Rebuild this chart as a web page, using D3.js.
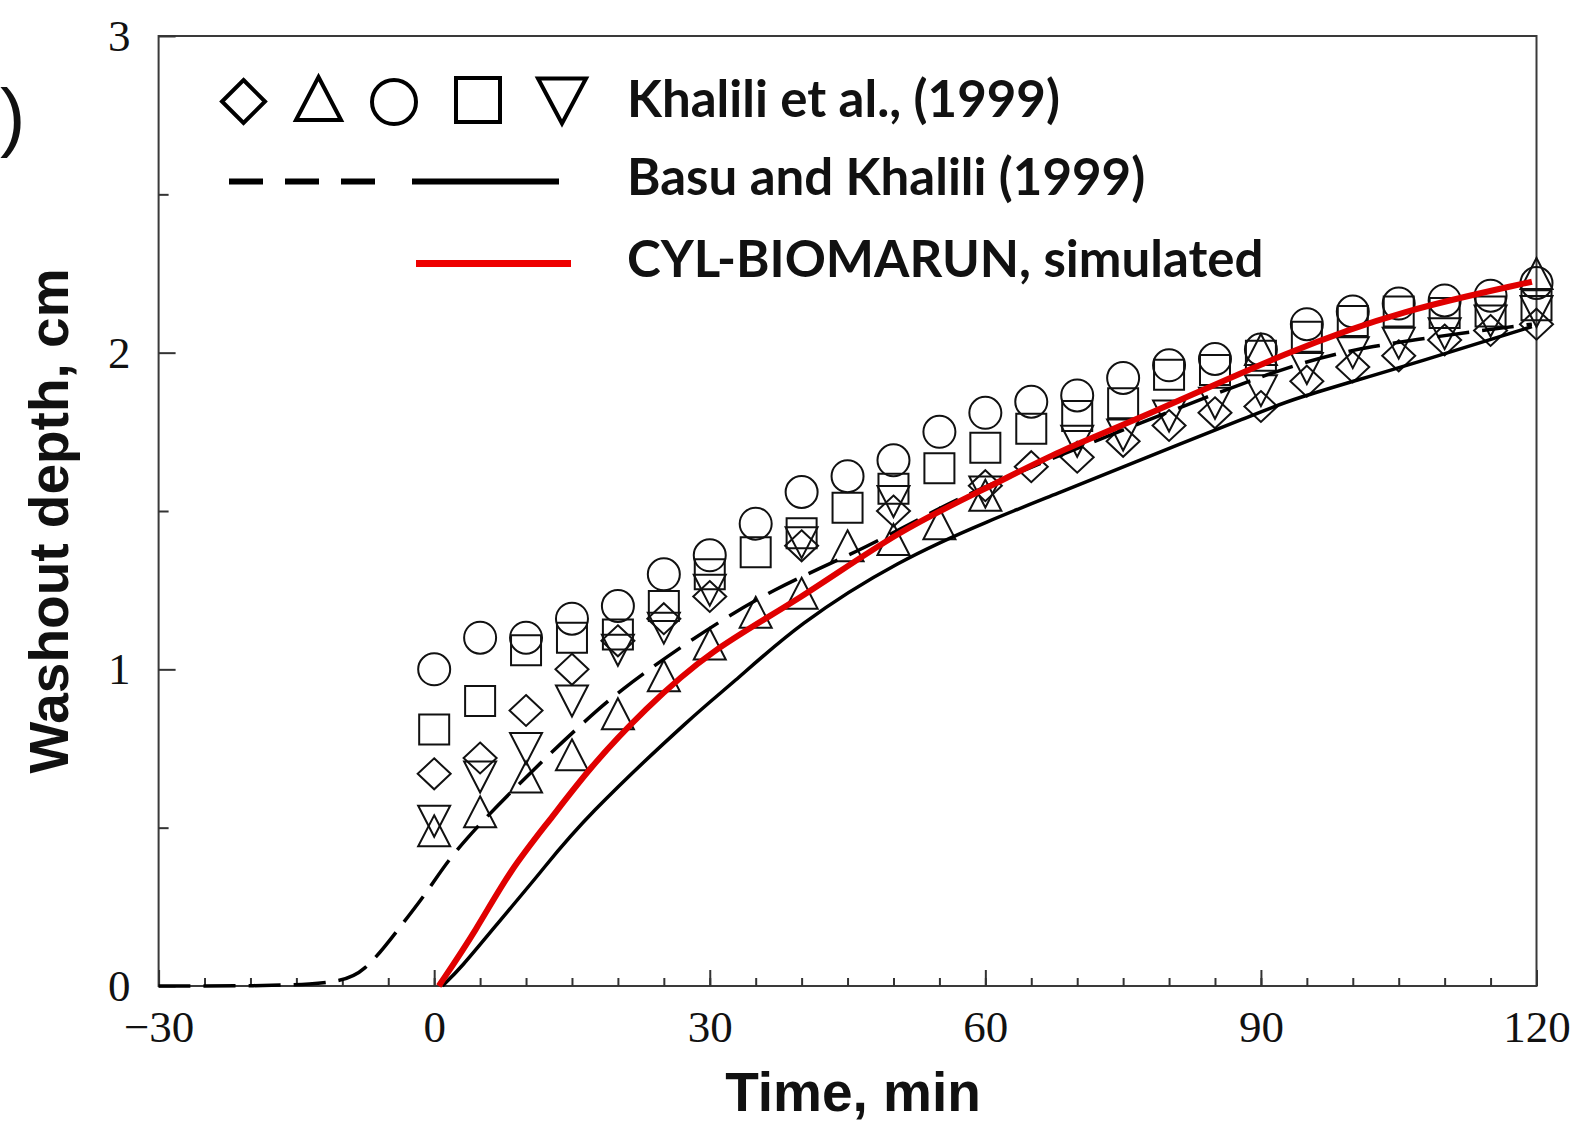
<!DOCTYPE html>
<html>
<head>
<meta charset="utf-8">
<script src="https://cdn.jsdelivr.net/npm/d3@7/dist/d3.min.js"></script>
<style>
  body { margin: 0; background: #fff; }
  svg { display: block; }
</style>
</head>
<body>
<script>
// washout depth vs time -- Khalili et al. data, Basu & Khalili model, CYL-BIOMARUN

var width = 1584,
	height = 1125;

// experimental points, every 5 min (null = hidden under other marks)
var times = [0, 5, 10, 15, 20, 25, 30, 35, 40, 45, 50, 55, 60, 65, 70, 75, 80, 85, 90, 95, 100, 105, 110, 115, 120];
var diamondVals = [0.67, 0.72, 0.87, 1.00, 1.09, 1.16, 1.23, null, 1.39, null, 1.50, null, 1.58, 1.64, 1.67, 1.72, 1.77, 1.81, 1.83, 1.91, 1.955, 1.99, 2.04, 2.07, 2.09];
var triangleVals = [0.49, 0.55, 0.66, 0.73, 0.86, 0.98, 1.08, 1.18, 1.24, 1.39, 1.41, 1.46, 1.55, null, null, null, null, null, 2.01, null, null, null, null, null, 2.25];
var circleVals = [1.00, 1.10, 1.10, 1.16, 1.20, 1.30, 1.36, 1.46, 1.56, 1.61, 1.66, 1.75, 1.81, 1.845, 1.865, 1.92, 1.96, 1.98, 2.01, 2.09, 2.13, 2.155, 2.165, 2.18, 2.22];
var squareVals = [0.81, 0.90, 1.06, 1.10, 1.11, 1.20, 1.30, 1.37, 1.43, 1.51, 1.57, 1.635, 1.70, 1.76, 1.80, 1.84, 1.93, 1.945, 1.99, 2.05, 2.10, 2.13, 2.125, 2.13, 2.15];
var downTriVals = [0.52, 0.66, 0.75, 0.90, 1.06, 1.13, 1.25, null, 1.40, null, 1.53, null, 1.56, null, 1.72, 1.74, 1.80, 1.84, 1.88, 1.95, 2.00, 2.03, 2.06, 2.10, 2.13];

// model curves
var basuDashT = [-30, -11, -7.6, -3.7, -0.4, 2.4, 12.2, 16.2, 19.8, 28.2, 37.2, 45.9, 55, 61.5, 91.2, 100.7, 119.5];
var basuDashV = [0, 0, 0.04, 0.187, 0.31, 0.44, 0.724, 0.83, 0.925, 1.10, 1.26, 1.367, 1.51, 1.60, 1.945, 2.02, 2.09];
var basuSolidT = [0.9, 3, 6.3, 11.8, 16.1, 28.8, 32.1, 39.7, 50.6, 60.5, 68, 75, 89.8, 93, 104.3, 119.5];
var basuSolidV = [0, 0.06, 0.177, 0.366, 0.524, 0.871, 0.945, 1.146, 1.345, 1.471, 1.557, 1.64, 1.81, 1.85, 1.945, 2.082];
var cylT = [0.5, 4.6, 8.25, 12.6, 17, 22.8, 30, 39.8, 50.6, 60.4, 68, 76.7, 93.4, 105.4, 119.5];
var cylV = [0, 0.177, 0.366, 0.524, 0.692, 0.871, 1.06, 1.22, 1.44, 1.575, 1.69, 1.79, 2.01, 2.134, 2.224];

var xTicks = [-30, 0, 30, 60, 90, 120];
var yTicks = [0, 1, 2, 3];

var legendLabels = ["Khalili et al., (1999)", "Basu and Khalili (1999)", "CYL-BIOMARUN, simulated"];

var svg = d3.select('body')
	.append('svg')
	.attr('width', width)
	.attr('height', height);

var x = d3.scaleLinear().domain([-30, 120]).range([158.6, 1536.5]),
	y = d3.scaleLinear().domain([0, 3]).range([986, 36]);

// marker shapes, w = width, h = height, centred on (cx, cy)
var shapes = {
	diamond: function(cx, cy, w, h){
		return "M" + cx + "," + (cy - h/2) + "L" + (cx + w/2) + "," + cy + "L" + cx + "," + (cy + h/2) + "L" + (cx - w/2) + "," + cy + "Z";
	},
	triangle: function(cx, cy, w, h){
		return "M" + cx + "," + (cy - h/2) + "L" + (cx + w/2) + "," + (cy + h/2) + "L" + (cx - w/2) + "," + (cy + h/2) + "Z";
	},
	circle: function(cx, cy, w, h){
		var r = w/2;
		return "M" + (cx - r) + "," + cy + "A" + r + "," + r + " 0 1,0 " + (cx + r) + "," + cy + "A" + r + "," + r + " 0 1,0 " + (cx - r) + "," + cy + "Z";
	},
	square: function(cx, cy, w, h){
		return "M" + (cx - w/2) + "," + (cy - h/2) + "h" + w + "v" + h + "h" + (-w) + "Z";
	},
	downTri: function(cx, cy, w, h){
		return "M" + (cx - w/2) + "," + (cy - h/2) + "L" + (cx + w/2) + "," + (cy - h/2) + "L" + cx + "," + (cy + h/2) + "Z";
	}
};

var series = [
	{shape: "circle", vals: circleVals, w: 32, h: 32},
	{shape: "square", vals: squareVals, w: 30, h: 30},
	{shape: "diamond", vals: diamondVals, w: 33, h: 31},
	{shape: "triangle", vals: triangleVals, w: 32, h: 31},
	{shape: "downTri", vals: downTriVals, w: 32, h: 31}
];

// frame
svg.append("rect")
	.attr("x", x(-30)).attr("y", y(3))
	.attr("width", x(120) - x(-30)).attr("height", y(0) - y(3))
	.attr("fill", "none").attr("stroke", "#3a3a3a").attr("stroke-width", 2);

// axes, ticks pointing in
svg.append("g").attr("transform", "translate(0," + y(0) + ")")
	.call(d3.axisBottom(x).tickValues(xTicks).tickSize(-16).tickPadding(24).tickFormat(d3.format("d")));
svg.append("g").attr("transform", "translate(0," + y(0) + ")")
	.call(d3.axisBottom(x).tickValues(d3.range(-25, 120, 5)).tickSize(-8).tickFormat(""));
svg.append("g").attr("transform", "translate(" + x(-30) + ",0)")
	.call(d3.axisLeft(y).tickValues(yTicks).tickSize(-17).tickPadding(28).tickFormat(d3.format("d")));
svg.append("g").attr("transform", "translate(" + x(-30) + ",0)")
	.call(d3.axisLeft(y).tickValues([0.5, 1.5, 2.5]).tickSize(-10).tickFormat(""));

svg.selectAll(".domain").remove();
svg.selectAll(".tick line").attr("stroke", "#333").attr("stroke-width", 2);
svg.selectAll(".tick text")
	.attr("font-family", "'Liberation Serif', 'Times New Roman', serif")
	.attr("font-size", 45)
	.attr("fill", "#111");

// experimental markers
series.forEach(function(s){
	svg.append("g")
		.selectAll("path")
		.data(times.map(function(t, i){ return {t: t, v: s.vals[i]}; }).filter(function(d){ return d.v != null; }))
		.enter().append("path")
		.attr("d", function(d){ return shapes[s.shape](x(d.t), y(d.v), s.w, s.h); })
		.attr("fill", "none")
		.attr("stroke", "#111")
		.attr("stroke-width", 2);
});

// model curves
var line = d3.line()
	.x(function(d){ return x(d[0]); })
	.y(function(d){ return y(d[1]); })
	.curve(d3.curveBasis);

svg.append("path")
	.datum(d3.zip(basuDashT, basuDashV))
	.attr("d", line)
	.attr("fill", "none").attr("stroke", "#000")
	.attr("stroke-width", 3.5).attr("stroke-dasharray", "32,13");

svg.append("path")
	.datum(d3.zip(basuSolidT, basuSolidV))
	.attr("d", line)
	.attr("fill", "none").attr("stroke", "#000").attr("stroke-width", 3.5);

svg.append("path")
	.datum(d3.zip(cylT, cylV))
	.attr("d", line)
	.attr("fill", "none").attr("stroke", "#e00000").attr("stroke-width", 6);

// legend
var leg = svg.append("g");
var legShapes = [
	{shape: "diamond", cx: 243.5, cy: 101.5, w: 43, h: 43},
	{shape: "triangle", cx: 318.5, cy: 98.5, w: 45, h: 43},
	{shape: "circle", cx: 394, cy: 102, w: 44, h: 44},
	{shape: "square", cx: 478, cy: 100, w: 44, h: 44},
	{shape: "downTri", cx: 562, cy: 101, w: 48, h: 45}
];
leg.selectAll("path.sym")
	.data(legShapes)
	.enter().append("path")
	.attr("class", "sym")
	.attr("d", function(d){ return shapes[d.shape](d.cx, d.cy, d.w, d.h); })
	.attr("fill", "none").attr("stroke", "#000").attr("stroke-width", 4);

leg.append("line")
	.attr("x1", 229).attr("x2", 375).attr("y1", 181.5).attr("y2", 181.5)
	.attr("stroke", "#000").attr("stroke-width", 6).attr("stroke-dasharray", "34,22");
leg.append("line")
	.attr("x1", 412).attr("x2", 559).attr("y1", 181.5).attr("y2", 181.5)
	.attr("stroke", "#000").attr("stroke-width", 6);
leg.append("line")
	.attr("x1", 416).attr("x2", 571).attr("y1", 263.5).attr("y2", 263.5)
	.attr("stroke", "#ee0000").attr("stroke-width", 7);

leg.selectAll("text")
	.data(legendLabels)
	.enter().append("text")
	.attr("x", 627)
	.attr("y", function(d, i){ return [117, 195, 277][i]; })
	.attr("font-family", "Lato, 'Open Sans', sans-serif")
	.attr("font-weight", "bold")
	.attr("font-size", 51)
	.attr("fill", "#111")
	.text(function(d){ return d; });

// axis titles
svg.append("text")
	.attr("x", 853).attr("y", 1111)
	.attr("text-anchor", "middle")
	.attr("font-family", "'Liberation Sans', Arial, sans-serif")
	.attr("font-weight", "bold").attr("font-size", 55)
	.attr("fill", "#111")
	.text("Time, min");

svg.append("text")
	.attr("transform", "translate(68,521) rotate(-90)")
	.attr("text-anchor", "middle")
	.attr("font-family", "'Liberation Sans', Arial, sans-serif")
	.attr("font-weight", "bold").attr("font-size", 55)
	.attr("fill", "#111")
	.text("Washout depth, cm");

// panel tag bracket at the left edge
svg.append("text")
	.attr("x", 0).attr("y", 142)
	.attr("font-family", "'Liberation Sans', Arial, sans-serif")
	.attr("font-size", 76)
	.attr("fill", "#111")
	.text(")");
</script>
</body>
</html>
